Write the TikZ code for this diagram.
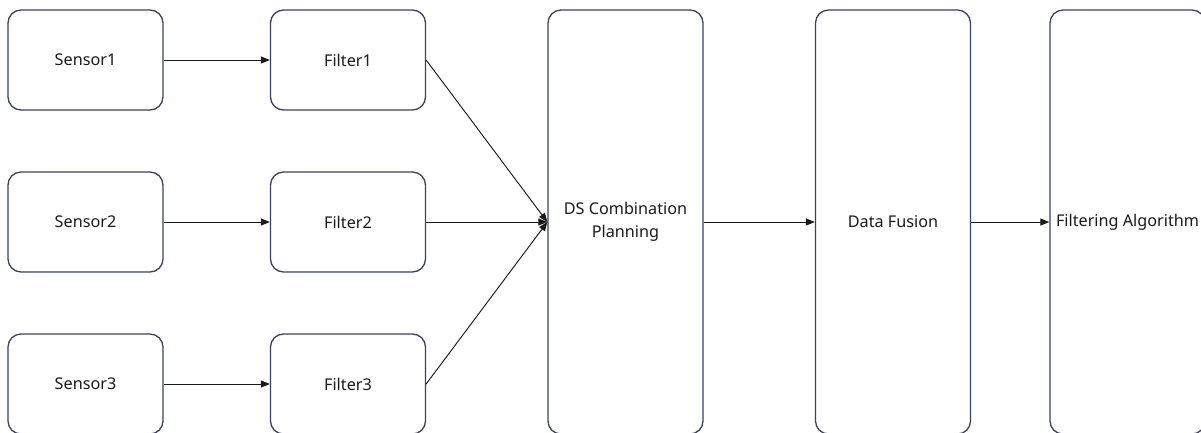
\documentclass[tikz,border=0pt]{standalone}
\usepackage{fontspec}
\setmainfont{Noto Sans}
\usetikzlibrary{arrows.meta}
\definecolor{boxline}{HTML}{3A406E}
\definecolor{inktext}{HTML}{1A1A1A}
\tikzset{
  blk/.style={draw=boxline, line width=1.3pt, rounded corners=13pt, fill=white,
    minimum width=155pt, inner sep=0pt, align=center, text=inktext,
    font=\fontsize{16.2}{23}\selectfont},
  small/.style={blk, minimum height=100pt},
  tall/.style={blk, minimum height=424pt},
  link/.style={line width=0.95pt, draw=black!90, -{Triangle[length=9pt,width=7pt]}}
}
\begin{document}
\begin{tikzpicture}[x=1pt,y=-1pt]
  \useasboundingbox (0,0) rectangle (1201,432);
  \clip (0,0) rectangle (1201,432);
  % sensors
  \node[small] (s1) at (85.5,60)  {Sensor1};
  \node[small] (s2) at (85.5,222) {Sensor2};
  \node[small] (s3) at (85.5,384) {Sensor3};
  % filters
  \node[small] (f1) at (348,60)  {Filter1};
  \node[small] (f2) at (348,222) {Filter2};
  \node[small] (f3) at (348,384) {Filter3};
  % processing stages
  \node[tall] (ds) at (625.5,222) {DS Combination\\Planning};
  \node[tall] (df) at (893,222)   {Data Fusion};
  \node[tall] (fa) at (1127.5,222) {Filtering Algorithm};
  % connectors
  \draw[link] (s1.east) -- (f1.west);
  \draw[link] (s2.east) -- (f2.west);
  \draw[link] (s3.east) -- (f3.west);
  \draw[link] (f1.east) -- (ds.west);
  \draw[link] (f2.east) -- (ds.west);
  \draw[link] (f3.east) -- (ds.west);
  \draw[link] (ds.east) -- (df.west);
  \draw[link] (df.east) -- (fa.west);
\end{tikzpicture}
\end{document}
